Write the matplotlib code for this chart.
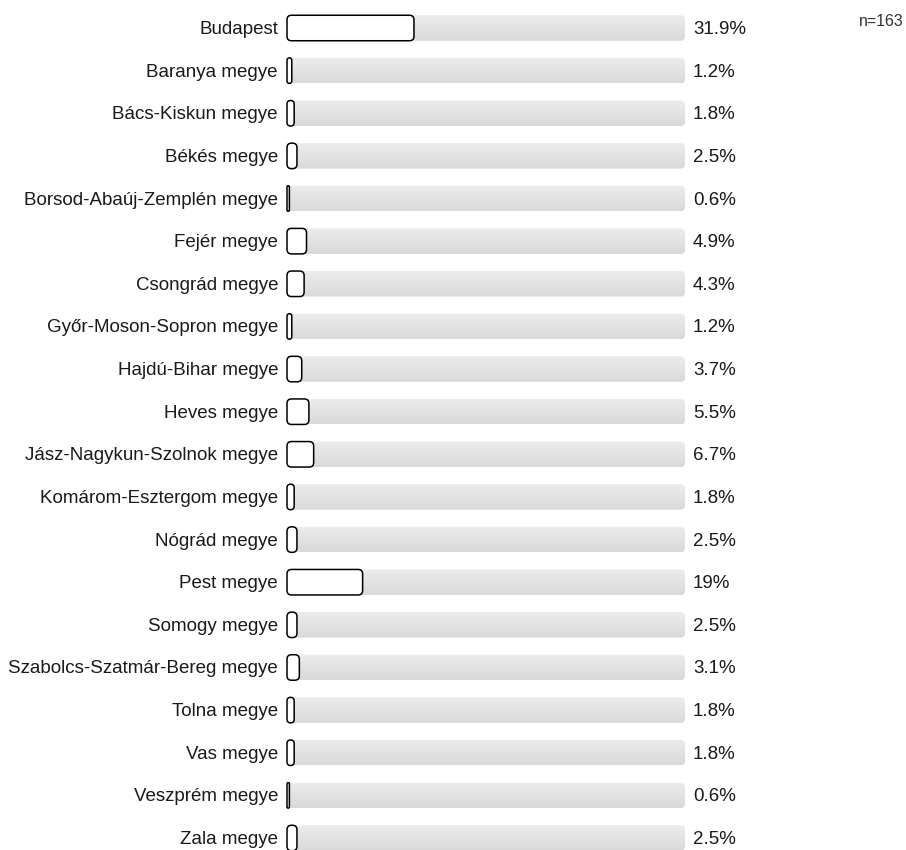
import matplotlib
matplotlib.use("Agg")
import matplotlib.pyplot as plt
import numpy as np
from matplotlib.patches import FancyBboxPatch
from matplotlib.colors import LinearSegmentedColormap

plt.rcParams['font.family'] = ['Liberation Sans', 'DejaVu Sans']

categories = ["Budapest", "Baranya megye", "Bács-Kiskun megye", "Békés megye",
              "Borsod-Abaúj-Zemplén megye", "Fejér megye", "Csongrád megye",
              "Győr-Moson-Sopron megye", "Hajdú-Bihar megye", "Heves megye",
              "Jász-Nagykun-Szolnok megye", "Komárom-Esztergom megye",
              "Nógrád megye", "Pest megye", "Somogy megye",
              "Szabolcs-Szatmár-Bereg megye", "Tolna megye", "Vas megye",
              "Veszprém megye", "Zala megye"]
values = [31.9, 1.2, 1.8, 2.5, 0.6, 4.9, 4.3, 1.2, 3.7, 5.5, 6.7, 1.8, 2.5,
          19, 2.5, 3.1, 1.8, 1.8, 0.6, 2.5]
value_labels = ["31.9%", "1.2%", "1.8%", "2.5%", "0.6%", "4.9%", "4.3%", "1.2%",
                "3.7%", "5.5%", "6.7%", "1.8%", "2.5%", "19%", "2.5%", "3.1%",
                "1.8%", "1.8%", "0.6%", "2.5%"]
n_label = "n=163"

W, H = 906, 850
fig = plt.figure(figsize=(W / 100, H / 100), dpi=100)

x0_px, x1_px = 287, 685
row0, rowN = 28, 838
n = len(categories)
step = (rowN - row0) / (n - 1)
top_px = row0 - step / 2
bot_px = rowN + step / 2
ax = fig.add_axes([x0_px / W, 1 - bot_px / H, (x1_px - x0_px) / W, (bot_px - top_px) / H])
ax.set_xlim(0, 100)
ax.set_ylim(n - 0.5, -0.5)
ax.axis('off')

px_per_x = (x1_px - x0_px) / 100
px_per_y = step
bar_h = 25.5 / step
r_px = 4.5
r_x = r_px / px_per_x
aspect = px_per_x / px_per_y
text_dy = 1.5 / step

grad_cmap = LinearSegmentedColormap.from_list("g", ["#ececec", "#d9d9d9"])
grad = np.linspace(0, 1, 64).reshape(-1, 1)

for i, (cat, v, lab) in enumerate(zip(categories, values, value_labels)):
    track = FancyBboxPatch((0, i - bar_h / 2), 100, bar_h,
                           boxstyle=f"round,pad=0,rounding_size={r_x}",
                           mutation_aspect=aspect,
                           facecolor="none", edgecolor="none", zorder=1)
    ax.add_patch(track)
    im = ax.imshow(grad, cmap=grad_cmap, aspect='auto',
                   extent=(0, 100, i + bar_h / 2, i - bar_h / 2),
                   zorder=1, interpolation='bilinear')
    im.set_clip_path(track)
    rs = min(r_x, v / 2)
    bar = FancyBboxPatch((0, i - bar_h / 2), v, bar_h,
                         boxstyle=f"round,pad=0,rounding_size={rs}",
                         mutation_aspect=aspect,
                         facecolor="white", edgecolor="black", linewidth=1.1,
                         zorder=2, clip_on=False)
    ax.add_patch(bar)
    ax.text(-9 / px_per_x, i + text_dy, cat, ha='right', va='center', fontsize=13.5,
            color="#1a1a1a", clip_on=False)
    ax.text(102, i + text_dy, lab, ha='left', va='center', fontsize=13.5,
            color="#1a1a1a", clip_on=False)

ax.set_xlim(0, 100)
ax.set_ylim(n - 0.5, -0.5)

fig.text(904 / W, 1 - 21 / H, n_label, ha='right', va='center', fontsize=11.5,
         color="#333333")

fig.savefig("out.png", dpi=100)
